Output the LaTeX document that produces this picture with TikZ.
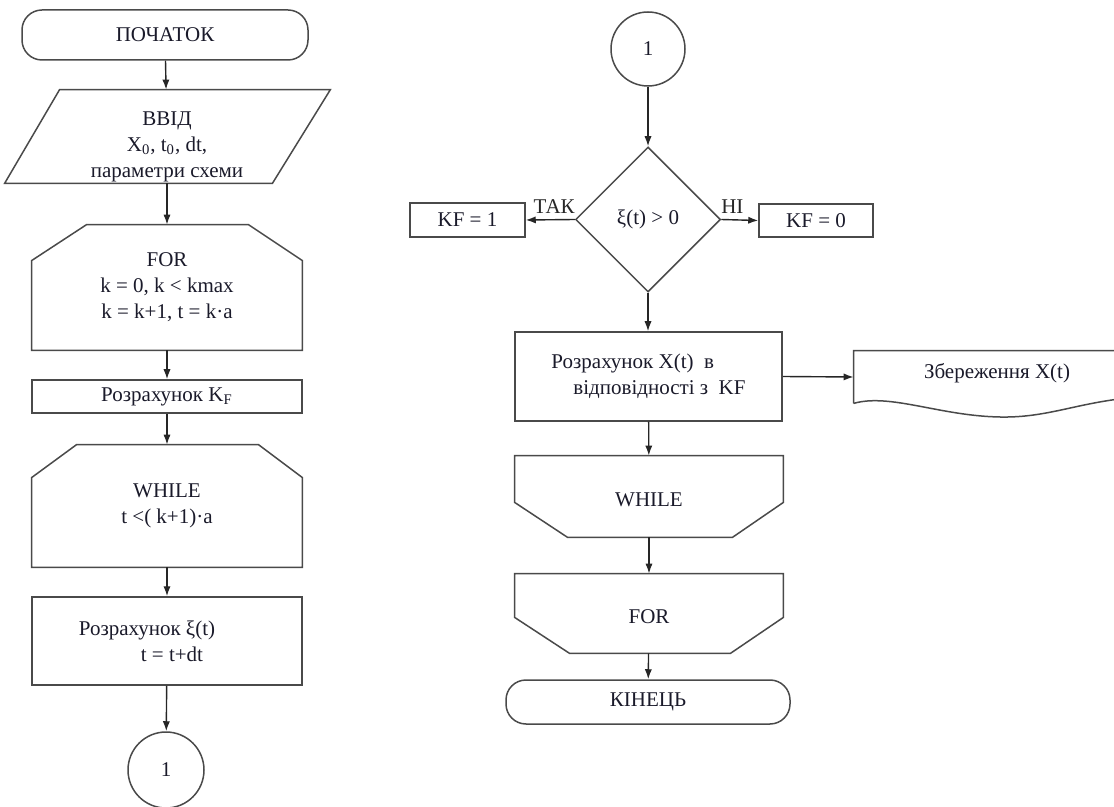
\documentclass[tikz,border=0pt]{standalone}
\usepackage{fontspec}
\setmainfont{Liberation Serif}
\usetikzlibrary{arrows.meta,shapes.geometric}
\definecolor{liniya}{HTML}{4A4A4A}
\definecolor{tekst}{HTML}{1A1A2A}

\begin{document}
\begin{tikzpicture}[x=0.5pt,y=-0.5pt,
  font=\fontsize{10.5}{13}\selectfont,text=tekst,
  kontur/.style={draw=liniya,line width=0.75pt},
  blok/.style={kontur,align=center,inner sep=0pt},
  ramka/.style={align=center,inner sep=0pt},
  strilka/.style={-{Latex[length=5pt,width=3.6pt]},line width=0.7pt,black!85},
]
\useasboundingbox (0,0) rectangle (1114,807);
\clip (0,0) rectangle (1114,807);

% left column
\node[blok,rounded corners=10pt,minimum width=143pt,minimum height=25pt] (pochatok) at (165,35) {ПОЧАТОК};
\node[ramka,minimum width=135pt,minimum height=46.5pt,
  label={[ramka,yshift=-5pt]center:{ВВІД\\X\textsubscript{0}, t\textsubscript{0}, dt,\\параметри схеми}}] (vvid) at (167,136.5) {};
\draw[kontur] ([xshift=14pt]vvid.north west) -- ([xshift=14pt]vvid.north east)
  -- ([xshift=-15pt]vvid.south east) -- ([xshift=-13.5pt]vvid.south west) -- cycle;
\node[ramka,minimum width=135pt,minimum height=62.5pt] (for1) at (167,287.5)
  {FOR\\k = 0, k < kmax\\k = k+1, t = k·a};
\draw[kontur] ([xshift=27.5pt]for1.north west) -- ([xshift=-27pt]for1.north east)
  -- ([yshift=-18pt]for1.north east) -- (for1.south east) -- (for1.south west)
  -- ([yshift=-18pt]for1.north west) -- cycle;
\node[blok,minimum width=135pt,minimum height=16.5pt] (kf) at (167,396.5) {Розрахунок K\textsubscript{F}};
\node[ramka,minimum width=135pt,minimum height=61pt] (while1) at (167,506)
  {WHILE\\t <( k+1)·a};
\draw[kontur] ([xshift=22.5pt]while1.north west) -- ([xshift=-22pt]while1.north east)
  -- ([yshift=-16.5pt]while1.north east) -- (while1.south east) -- (while1.south west)
  -- ([yshift=-16.5pt]while1.north west) -- cycle;
\node[blok,minimum width=135pt,minimum height=44pt,
  label={[ramka,align=left,xshift=-10pt]center:{Розрахунок ξ(t)\\\hspace*{31pt}t = t+dt}}] (ksi) at (167,641) {};
\node[blok,circle,minimum size=38pt] (con1) at (166,770) {1};

\draw[strilka] (pochatok) -- (vvid);
\draw[strilka] (vvid) -- (for1);
\draw[strilka] (for1) -- (kf);
\draw[strilka] (kf) -- (while1);
\draw[strilka] (while1) -- (ksi);
\draw[strilka] (ksi) -- (con1);

% right column
\node[blok,circle,minimum size=37pt] (con2) at (648,49) {1};
\node[blok,diamond,minimum width=72.5pt,minimum height=72.5pt] (umova) at (648,219.5) {ξ(t) > 0};
\node[blok,minimum width=57.5pt,minimum height=17pt] (kf1) at (467.5,220) {KF = 1};
\node[blok,minimum width=57pt,minimum height=16.5pt] (kf0) at (816,220.5) {KF = 0};
\node[blok,minimum width=133.5pt,minimum height=44.5pt,
  label={[ramka,align=left]center:{Розрахунок X(t) \ в\\\hspace*{11pt}відповідності з \ KF}}] (rozr) at (648.5,376.5) {};
\node[ramka,minimum width=143pt,minimum height=26pt,
  label={[ramka,yshift=2pt]center:Збереження X(t)}] (zber) at (997,377) {};
\draw[kontur] (zber.south west) -- (zber.north west) -- (zber.north east) -- (1140,397)
  .. controls (1080,401) and (1050,418) .. (1000,417)
  .. controls (940,416) and (890,393) .. (zber.south west);
\node[ramka,minimum width=134pt,minimum height=40.5pt,
  label={[ramka,yshift=-1.5pt]center:WHILE}] (while2) at (649,496.5) {};
\draw[kontur] (while2.north west) -- (while2.north east) -- ([yshift=17.5pt]while2.south east)
  -- ([xshift=-25.5pt]while2.south east) -- ([xshift=26.5pt]while2.south west)
  -- ([yshift=17.5pt]while2.south west) -- cycle;
\node[ramka,minimum width=134pt,minimum height=39.5pt,
  label={[ramka,yshift=-1.5pt]center:FOR}] (for2) at (649,613.5) {};
\draw[kontur] (for2.north west) -- (for2.north east) -- ([yshift=18pt]for2.south east)
  -- ([xshift=-26.5pt]for2.south east) -- ([xshift=27.5pt]for2.south west)
  -- ([yshift=18pt]for2.south west) -- cycle;
\node[blok,rounded corners=10pt,minimum width=142pt,minimum height=22pt] (kinets) at (648,702) {КІНЕЦЬ};

\draw[strilka] (con2) -- (umova);
\draw[strilka] (umova.west) -- node[above,pos=0.42,inner sep=3pt] {ТАК} (kf1.east);
\draw[strilka] (umova.east) -- node[above,pos=0.3,inner sep=3pt] {НІ} (kf0.west);
\draw[strilka] (umova.south) -- (umova.south |- rozr.north);
\draw[strilka] (rozr.east) -- (zber.west);
\draw[strilka] (rozr) -- (while2);
\draw[strilka] (while2) -- (for2);
\draw[strilka] (for2) -- (kinets);
\end{tikzpicture}
\end{document}
